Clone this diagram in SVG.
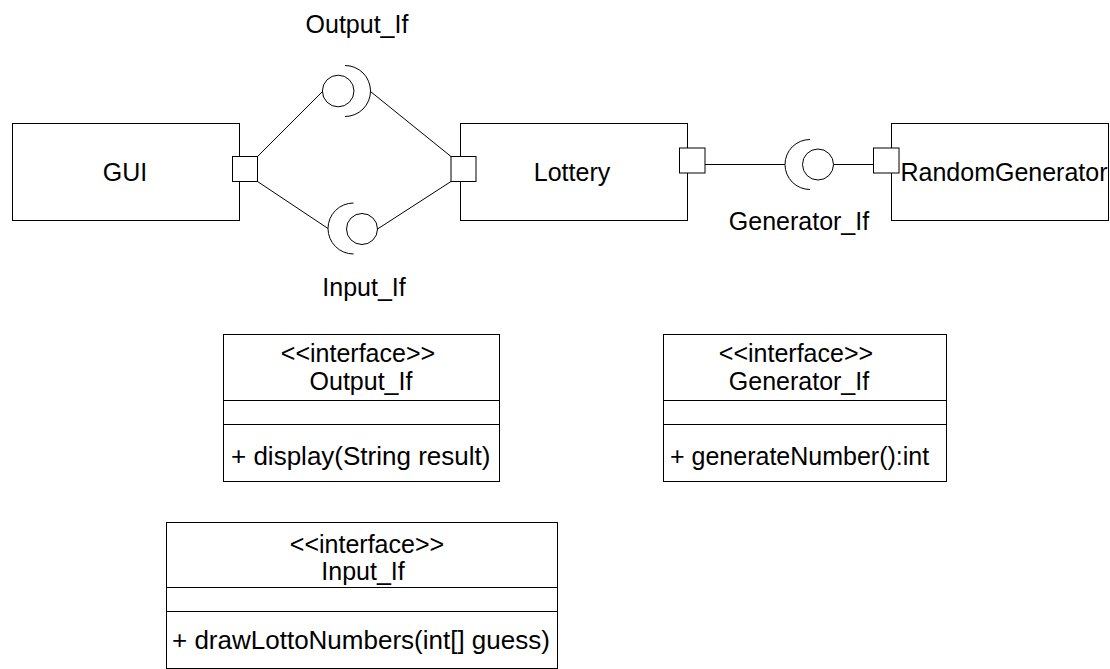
<svg xmlns="http://www.w3.org/2000/svg" width="1110" height="669" viewBox="0 0 1110 669">
<style>
  .box { fill: #ffffff; stroke: #000000; stroke-width: 1; }
  .port { fill: #ffffff; stroke: #000000; stroke-width: 1; }
  .ln { fill: none; stroke: #000000; stroke-width: 1; }
  text { font-family: "Liberation Sans", Arial, Helvetica, sans-serif; font-size: 25px; fill: #000000; }
  .c { text-anchor: middle; }
  .m { font-size: 26px; }
</style>
<rect x="0" y="0" width="1110" height="669" fill="#ffffff"/>

<g id="connectors">
  <line class="ln" x1="257.5" y1="156.5" x2="322.5" y2="91.5"/>
  <line class="ln" x1="370.5" y1="91.5" x2="451" y2="156.5"/>
  <line class="ln" x1="257.5" y1="181.5" x2="328" y2="228.5"/>
  <line class="ln" x1="377.5" y1="229" x2="451" y2="181.5"/>
  <line class="ln" x1="705" y1="164.5" x2="785" y2="164.5"/>
  <line class="ln" x1="833.5" y1="164.5" x2="873.5" y2="164.5"/>
</g>

<g id="GUI">
  <rect class="box" x="12.5" y="123.5" width="227" height="97"/>
  <text class="c" x="125" y="181">GUI</text>
</g>

<g id="Lottery">
  <rect class="box" x="460.5" y="123.5" width="227" height="97"/>
  <text class="c" x="572" y="181">Lottery</text>
</g>

<g id="RandomGenerator">
  <rect class="box" x="891.5" y="123.5" width="217" height="97"/>
  <text class="c" x="1004" y="181">RandomGenerator</text>
</g>

<g id="GUI_port">
  <rect class="port" x="232.5" y="156.5" width="25" height="25"/>
</g>
<g id="Lottery_port_left">
  <rect class="port" x="451" y="156.5" width="25" height="25"/>
</g>
<g id="Lottery_port_right">
  <rect class="port" x="679.5" y="148" width="25.5" height="25"/>
</g>
<g id="RandomGenerator_port">
  <rect class="port" x="873.5" y="148" width="25.5" height="25"/>
</g>

<g id="Output_If_iface">
  <circle class="ln" cx="338.2" cy="91" r="15.8"/>
  <path class="ln" d="M345,65.5 A25.5,25.5 0 0 1 345,116.5"/>
  <text class="c" x="357" y="33">Output_If</text>
</g>

<g id="Input_If_iface">
  <circle class="ln" cx="362" cy="229" r="15.5"/>
  <path class="ln" d="M353.5,203 A25.5,25.5 0 0 0 353.5,254"/>
  <text class="c" x="364" y="296">Input_If</text>
</g>

<g id="Generator_If_iface">
  <circle class="ln" cx="818" cy="164.5" r="15.5"/>
  <path class="ln" d="M810,139.5 A25,25 0 0 0 810,189.5"/>
  <text class="c" x="799" y="230">Generator_If</text>
</g>

<g id="Output_If_class">
  <rect class="box" x="223.5" y="334.5" width="276" height="147"/>
  <line class="ln" x1="223.5" y1="400.5" x2="499.5" y2="400.5"/>
  <line class="ln" x1="223.5" y1="424.5" x2="499.5" y2="424.5"/>
  <text class="c" x="358" y="362">&lt;&lt;interface&gt;&gt;</text>
  <text class="c" x="361" y="390">Output_If</text>
  <text class="m" x="231" y="465">+ display(String result)</text>
</g>

<g id="Generator_If_class">
  <rect class="box" x="663.5" y="334.5" width="283" height="147"/>
  <line class="ln" x1="663.5" y1="400.5" x2="946.5" y2="400.5"/>
  <line class="ln" x1="663.5" y1="424.5" x2="946.5" y2="424.5"/>
  <text class="c" x="796" y="362">&lt;&lt;interface&gt;&gt;</text>
  <text class="c" x="799" y="390">Generator_If</text>
  <text x="670" y="465">+ generateNumber():int</text>
</g>

<g id="Input_If_class">
  <rect class="box" x="166.5" y="522.5" width="391" height="146"/>
  <line class="ln" x1="166.5" y1="587.5" x2="557.5" y2="587.5"/>
  <line class="ln" x1="166.5" y1="611.5" x2="557.5" y2="611.5"/>
  <text class="c" x="367" y="553">&lt;&lt;interface&gt;&gt;</text>
  <text class="c" x="363" y="580">Input_If</text>
  <text class="m" x="172" y="649">+ drawLottoNumbers(int[] guess)</text>
</g>
</svg>
